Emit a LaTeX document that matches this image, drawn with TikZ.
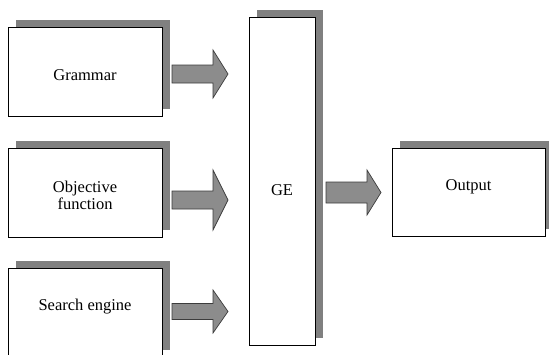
\documentclass[tikz,border=0pt]{standalone}
\usepackage{fontspec}
\setmainfont{Liberation Serif}
\usetikzlibrary{shadows}
\definecolor{shadowgray}{RGB}{128,128,128}
\definecolor{arrowgray}{RGB}{140,140,140}
\definecolor{arrowline}{RGB}{60,60,60}
\tikzset{
  box/.style={draw=black, line width=0.8pt, fill=white, inner sep=0pt,
    general shadow={fill=shadowgray, shadow xshift=7.5pt, shadow yshift=7.5pt},
    font=\fontsize{16.5}{16.5}\selectfont, align=center},
  blk/.style={fill=arrowgray, draw=arrowline, line width=0.7pt, line join=miter}
}
% name, x0, xhead, xtip, ymid, body half, head half
\newcommand\blockarrow[7]{%
  \draw[blk] (#2,#5-#6) -- (#3,#5-#6) -- (#3,#5-#7) -- (#4,#5)
    -- (#3,#5+#7) -- (#3,#5+#6) -- (#2,#5+#6) -- cycle;
  \coordinate (#1) at (#4,#5);}
\begin{document}
\begin{tikzpicture}[x=1pt,y=-1pt]
\useasboundingbox (0,0) rectangle (549,354);
\node[box, minimum width=154pt, minimum height=89pt,
  label={[yshift=-4pt,font=\fontsize{16.5}{16.5}\selectfont]center:Grammar}] (gram) at (85,71.5) {};
\node[box, minimum width=154pt, minimum height=89pt,
  label={[yshift=-3pt,align=center,font=\fontsize{16.5}{16.5}\selectfont]center:Objective\\function}] (obj) at (85,192.5) {};
\node[box, minimum width=154pt, minimum height=89pt,
  label={[yshift=6pt,font=\fontsize{16.5}{16.5}\selectfont]center:Search engine}] (search) at (85,312.5) {};
\node[box, minimum width=66pt, minimum height=328pt,
  label={[yshift=-9pt,font=\fontsize{16.5}{16.5}\selectfont]center:GE}] (ge) at (282,181) {};
\node[box, minimum width=153pt, minimum height=88pt,
  label={[yshift=5pt,font=\fontsize{16.5}{16.5}\selectfont]center:Output}] (out) at (468.5,192) {};
\blockarrow{a1}{172}{213}{228}{74}{9}{24}
\blockarrow{a2}{172}{213}{228}{200}{9}{30}
\blockarrow{a3}{172}{213}{228}{311.5}{8}{21.5}
\blockarrow{a4}{326}{367}{381}{192.5}{10.5}{22.5}
\end{tikzpicture}
\end{document}
